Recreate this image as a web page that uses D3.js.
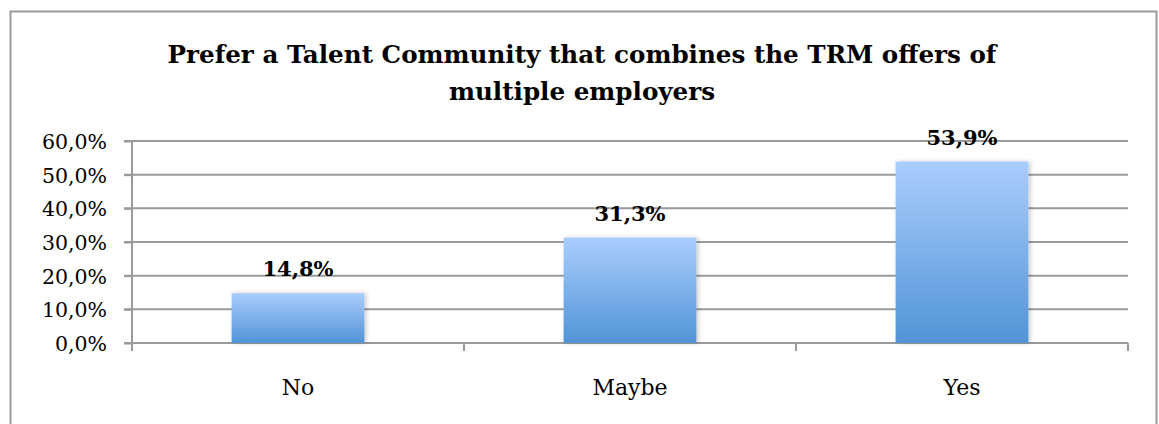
<!DOCTYPE html>
<html>
<head>
<meta charset="utf-8">
<script src="https://cdn.jsdelivr.net/npm/d3@7"></script>
<style>
  body { margin: 0; background: #fff; }
</style>
</head>
<body>
<script>
const categories = ["No", "Maybe", "Yes"];
const shares = [14.8, 31.3, 53.9];
const yTicks = [0, 10, 20, 30, 40, 50, 60];
const titleLines = ["Prefer a Talent Community that combines the TRM offers of", "multiple employers"];

const w = 1159;
const h = 424;
const plotLeft = 132, plotRight = 1128, plotTop = 141, plotBottom = 343;
const serif = "'DejaVu Serif', serif";

const fmt = v => d3.format(".1f")(v).replace(".", ",") + "%";

const svg = d3.select("body").append("svg")
  .attr("width", w)
  .attr("height", h)
  .style("font-family", serif);

const defs = svg.append("defs");
const grad = defs.append("linearGradient")
  .attr("id", "barGrad")
  .attr("x1", 0).attr("y1", 0).attr("x2", 0).attr("y2", 1);
grad.append("stop").attr("offset", "0%").attr("stop-color", "#aacdfd");
grad.append("stop").attr("offset", "100%").attr("stop-color", "#5194d6");

const shadow = defs.append("filter").attr("id", "shadow")
  .attr("x", "-10%").attr("y", "-10%").attr("width", "130%").attr("height", "130%");
shadow.append("feDropShadow")
  .attr("dx", 2).attr("dy", 0).attr("stdDeviation", 2)
  .attr("flood-color", "#000").attr("flood-opacity", 0.2);

// chart border
svg.append("rect")
  .attr("x", 10.5).attr("y", 11.5)
  .attr("width", 1146).attr("height", 430)
  .attr("fill", "none")
  .attr("stroke", "#9a9a9a")
  .attr("stroke-width", 2);

// title
svg.append("text")
  .attr("text-anchor", "middle")
  .style("font-family", serif)
  .style("font-size", "24.6px")
  .style("font-weight", "bold")
  .selectAll("tspan")
  .data(titleLines)
  .enter()
  .append("tspan")
  .attr("x", 582)
  .attr("y", (d, i) => 63 + i * 37)
  .text(d => d);

const xScale = d3.scaleBand()
  .domain(categories)
  .range([plotLeft, plotRight])
  .paddingInner(0.6)
  .paddingOuter(0.3);

const yScale = d3.scaleLinear()
  .domain([0, 60])
  .range([plotBottom, plotTop]);

// gridlines
svg.append("g")
  .selectAll("line")
  .data(yTicks)
  .enter()
  .append("line")
  .attr("x1", plotLeft - 8)
  .attr("x2", plotRight)
  .attr("y1", d => yScale(d))
  .attr("y2", d => yScale(d))
  .attr("stroke", "#9a9a9a")
  .attr("stroke-width", 2);

// y axis
const yAxis = d3.axisLeft(yScale)
  .tickValues(yTicks)
  .tickFormat(fmt)
  .tickSize(8)
  .tickPadding(17);
const gy = svg.append("g")
  .attr("transform", "translate(" + plotLeft + ",0)")
  .call(yAxis.tickSizeOuter(0));
gy.attr("font-family", null).attr("font-size", null);
gy.selectAll("path, line").attr("stroke", "#9a9a9a").attr("stroke-width", 2);
gy.select(".domain").attr("d", "M0," + plotTop + "V" + (plotBottom + 8));
gy.selectAll("text")
  .style("font-family", serif)
  .style("font-size", "20.5px")
  .attr("fill", "#000")
  .attr("dy", "0.36em");

// x axis
const step = xScale.step();
const boundaries = [0, 1, 2, 3].map(i => plotLeft + i * step);
const gx = svg.append("g");
gx.append("line")
  .attr("x1", plotLeft).attr("x2", plotRight)
  .attr("y1", plotBottom).attr("y2", plotBottom)
  .attr("stroke", "#9a9a9a").attr("stroke-width", 2);
gx.selectAll(".xtick")
  .data(boundaries)
  .enter()
  .append("line")
  .attr("class", "xtick")
  .attr("x1", d => d).attr("x2", d => d)
  .attr("y1", plotBottom).attr("y2", plotBottom + 8)
  .attr("stroke", "#9a9a9a").attr("stroke-width", 2);
gx.selectAll("text")
  .data(categories)
  .enter()
  .append("text")
  .attr("x", d => xScale(d) + xScale.bandwidth() / 2)
  .attr("y", 395)
  .attr("text-anchor", "middle")
  .style("font-family", serif)
  .style("font-size", "22px")
  .text(d => d);

// bars
svg.append("g")
  .selectAll("rect")
  .data(shares)
  .enter()
  .append("rect")
  .attr("x", (d, i) => xScale(categories[i]))
  .attr("y", d => yScale(d))
  .attr("width", xScale.bandwidth())
  .attr("height", d => plotBottom - yScale(d))
  .attr("fill", "url(#barGrad)")
  .attr("filter", "url(#shadow)");

// value labels
svg.append("g")
  .selectAll("text")
  .data(shares)
  .enter()
  .append("text")
  .attr("x", (d, i) => xScale(categories[i]) + xScale.bandwidth() / 2)
  .attr("y", d => yScale(d) - 17)
  .attr("text-anchor", "middle")
  .style("font-family", serif)
  .style("font-size", "21px")
  .style("font-weight", "bold")
  .text(fmt);
</script>
</body>
</html>
